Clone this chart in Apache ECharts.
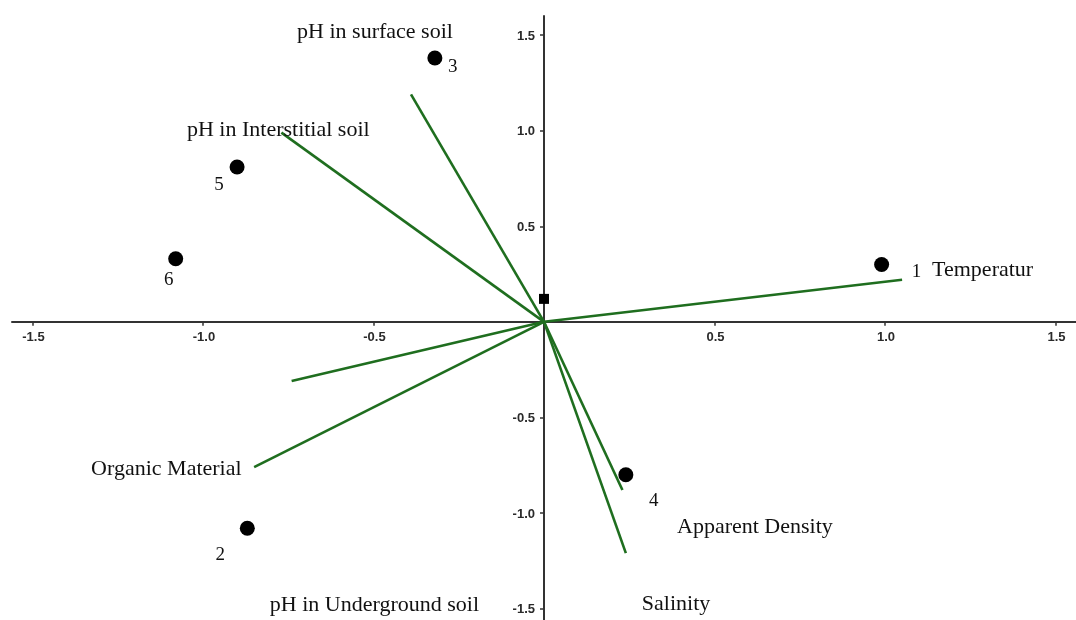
<!DOCTYPE html>
<html>
<head>
<meta charset="utf-8">
<script src="https://cdn.jsdelivr.net/npm/echarts@6/dist/echarts.min.js"></script>
<style>
html,body{margin:0;padding:0;background:#fff;}
#chart{width:1076px;height:620px;}
</style>
</head>
<body>
<div id="chart"></div>
<script>
// Sample points (site scores)
const pointIds = ['1', '2', '3', '4', '5', '6'];
const pointX = [0.99, -0.87, -0.32, 0.24, -0.90, -1.08];
const pointY = [0.30, -1.08, 1.38, -0.80, 0.81, 0.33];

// Small square marker near origin
const squareX = [0.0];
const squareY = [0.12];

// Environmental vectors (from origin)
const vectorX = [1.05, -0.39, -0.77, -0.74, -0.85, 0.23, 0.24];
const vectorY = [0.22, 1.19, 0.99, -0.31, -0.76, -0.88, -1.21];

// Variable names and their text anchors (left edge, vertical centre)
const varNames = ['Temperatur', 'pH in surface soil', 'pH in Interstitial soil', 'pH in Underground soil', 'Organic Material', 'Apparent Density', 'Salinity'];
const varX = [1.138, -0.724, -1.047, -0.804, -1.328, 0.39, 0.287];
const varY = [0.272, 1.513, 1.0, -1.482, -0.77, -1.073, -1.476];

// Tick labels
const tickValues = [-1.5, -1.0, -0.5, 0.5, 1.0, 1.5];

// Style for point-number labels
const numOffsets = [[35, 8], [-27, 27], [18, 9], [28, 26], [-18, 18], [-7, 21]];

const chart = echarts.init(document.getElementById('chart'), null, {renderer: 'canvas'});

const green = '#1f6e1f';
const textColor = '#111';
const series = [];

vectorX.forEach((vx, i) => {
  series.push({
    type: 'line',
    data: [[0, 0], [vx, vectorY[i]]],
    showSymbol: false,
    symbol: 'none',
    lineStyle: {color: green, width: 2.6},
    z: 3,
    silent: true
  });
});

series.push({
  type: 'scatter',
  data: pointX.map((x, i) => ({
    value: [x, pointY[i]],
    name: pointIds[i],
    label: {offset: numOffsets[i]}
  })),
  symbol: 'circle',
  symbolSize: 15,
  itemStyle: {color: '#000', opacity: 1},
  label: {
    show: true,
    position: 'inside',
    formatter: p => p.name,
    fontFamily: 'Liberation Serif, serif',
    fontSize: 19,
    color: textColor
  },
  z: 5
});

series.push({
  type: 'scatter',
  data: squareX.map((x, i) => [x, squareY[i]]),
  symbol: 'rect',
  symbolSize: 10,
  itemStyle: {color: '#000', opacity: 1},
  z: 5
});

series.push({
  type: 'scatter',
  data: varX.map((x, i) => ({value: [x, varY[i]], name: varNames[i]})),
  symbolSize: 0,
  itemStyle: {color: 'rgba(0,0,0,0)', opacity: 1},
  label: {
    show: true,
    position: 'inside',
    align: 'left',
    verticalAlign: 'middle',
    formatter: p => p.name,
    fontFamily: 'Liberation Serif, serif',
    fontSize: 22,
    color: textColor
  },
  z: 6
});

const tickFont = {
  fontFamily: 'Liberation Sans, Arial, sans-serif',
  fontWeight: 'bold',
  fontSize: 13,
  color: '#2a2a2a'
};

// x tick labels along the zero line
series.push({
  type: 'scatter',
  data: tickValues.map(v => ({value: [v, 0], name: v.toFixed(1)})),
  symbolSize: 0,
  itemStyle: {color: 'rgba(0,0,0,0)', opacity: 1},
  label: Object.assign({
    show: true, position: 'inside', align: 'center', verticalAlign: 'middle',
    offset: [1, 16], formatter: p => p.name
  }, tickFont),
  z: 6
});

// y tick labels along the zero line
series.push({
  type: 'scatter',
  data: tickValues.map(v => ({value: [0, v], name: v.toFixed(1)})),
  symbolSize: 0,
  itemStyle: {color: 'rgba(0,0,0,0)', opacity: 1},
  label: Object.assign({
    show: true, position: 'inside', align: 'right', verticalAlign: 'middle',
    offset: [-9, 1], formatter: p => p.name
  }, tickFont),
  z: 6
});

const axisCommon = {
  type: 'value',
  min: -1.56,
  splitLine: {show: false},
  axisLine: {show: true, onZero: true, lineStyle: {color: '#333', width: 2}},
  axisTick: {show: true, customValues: tickValues, length: 4, lineStyle: {color: '#333', width: 1.5}},
  axisLabel: {show: false}
};

chart.setOption({
  animation: false,
  backgroundColor: '#fff',
  grid: {left: 12, top: 16, width: 1064, height: 604, containLabel: false, outerBoundsMode: 'none'},
  xAxis: Object.assign({}, axisCommon, {max: 1.56}),
  yAxis: Object.assign({}, axisCommon, {max: 1.6}),
  series: series
});
</script>
</body>
</html>
